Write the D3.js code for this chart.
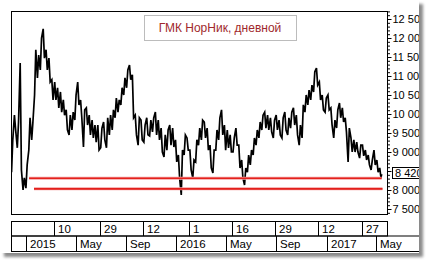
<!DOCTYPE html>
<html>
<head>
<meta charset="utf-8">
<script src="https://cdn.jsdelivr.net/npm/d3@7"></script>
<style>
    body { margin: 0; background: #fff; }
    svg { display: block; font-family: "Liberation Sans", Arial, sans-serif; }
</style>
</head>
<body>
<svg id="chart" width="434" height="265"></svg>
<script>
"use strict";

const title = "ГМК НорНик, дневной";

// weekly ranges, first week ends 2014-11-28
const firstWeek = "2014-11-28";
const weekHigh = [
    9320, 9970, 9790, 11340, 8320, 8660, 9900, 9790, 11690, 11550,
    12000, 12240, 11690, 11470, 10900, 10840, 10690, 10580, 10370, 10110,
    9970, 10050, 10500, 10840, 10370, 10110, 10160, 9970, 9840, 9710,
    9710, 9630, 9790, 9900, 9970, 10110, 10420, 10370, 10690, 10950,
    11160, 11290, 11030, 9970, 9900, 9840, 9710, 9900, 9840, 9900,
    10050, 9840, 9630, 9450, 9580, 9710, 9630, 9320, 8920, 9050,
    9450, 9370, 9050, 8790, 9320, 9630, 9840, 9790, 9630, 9180,
    9050, 9580, 9900, 10110, 9710, 9580, 9450, 9370, 9630, 9180,
    8790, 8580, 8920, 9050, 9370, 9580, 9790, 9970, 10050, 9970,
    9900, 9840, 9970, 9840, 9900, 10050, 9900, 10050, 10160, 9970,
    9710, 10240, 10500, 10630, 10760, 11110, 11210, 10840, 10500, 10420,
    10500, 10160, 9840, 10110, 10290, 10160, 9900, 9630, 9370, 9320,
    9260, 9180, 9180, 9050, 8920, 8790, 9050, 8790, 8580
];
const weekLow = [
    8470, 9580, 9110, 8530, 8000, 8050, 9050, 9320, 10500, 10950,
    11160, 11470, 11160, 10840, 10370, 10370, 10160, 10050, 9970, 9580,
    9450, 9580, 9840, 10240, 9900, 9130, 9710, 9450, 9370, 9260,
    9050, 9110, 9320, 9110, 9450, 9580, 9900, 10050, 10240, 10500,
    10690, 10900, 9900, 9450, 9180, 9320, 9260, 9450, 9420, 9530,
    9450, 9320, 9000, 8870, 9050, 9180, 9130, 8740, 8320, 7870,
    8920, 9050, 8530, 8320, 8740, 9180, 9320, 9370, 9050, 8580,
    8450, 9050, 9320, 9450, 9050, 9110, 9000, 9000, 9180, 8580,
    8320, 8130, 8470, 8660, 8920, 9180, 9370, 9580, 9630, 9580,
    9530, 9370, 9580, 9450, 9370, 9580, 9450, 9630, 9710, 9450,
    9180, 9370, 10050, 10240, 10370, 10580, 10760, 10370, 10110, 10050,
    10110, 9710, 9370, 9630, 9900, 9790, 9530, 8740, 9000, 9000,
    9000, 8840, 8900, 8790, 8660, 8530, 8660, 8470, 8320
];
const lastClose = 8420;

// horizontal support lines
const levelValues = [8310, 8030];
const levelFrom = ["2015-01-08", "2015-01-20"];
const levelTo = ["2017-05-15", "2017-05-17"];

const yTicks = [7500, 8000, 8500, 9000, 9500, 10000, 10500, 11000, 11500, 12000, 12500];

const dayTicks = ["2015-03-10", "2015-06-29", "2015-10-12", "2016-02-01",
                  "2016-05-16", "2016-08-29", "2016-12-12", "2017-03-27"];
const dayLabels = ["10", "29", "12", "1", "16", "29", "12", "27"];
const monthTicks = ["2015-01-01", "2015-05-01", "2015-09-01", "2016-01-01",
                    "2016-05-01", "2016-09-01", "2017-01-01", "2017-05-01"];
const monthLabels = ["2015", "May", "Sep", "2016", "May", "Sep", "2017", "May"];

const parse = d3.timeParse("%Y-%m-%d");
const fmt = d3.formatLocale({ decimal: ".", thousands: " ", grouping: [3], currency: ["", ""] }).format(",d");

const svg = d3.select("#chart");

const plot = { left: 11, top: 11, right: 387, bottom: 214 };
const panelW = 419, panelH = 253;

// panel with drop shadow
const defs = svg.append("defs");
defs.append("filter").attr("id", "blur")
    .attr("x", "-5%").attr("y", "-5%").attr("width", "110%").attr("height", "110%")
    .append("feGaussianBlur").attr("stdDeviation", 1.8);
defs.append("clipPath").attr("id", "panelClip")
    .append("rect").attr("x", 0).attr("y", 0).attr("width", panelW).attr("height", panelH);
defs.append("clipPath").attr("id", "plotClip")
    .append("rect").attr("x", plot.left).attr("y", plot.top)
    .attr("width", plot.right - plot.left).attr("height", plot.bottom - plot.top);

svg.append("rect")
    .attr("x", 4).attr("y", 4).attr("width", panelW).attr("height", panelH)
    .attr("fill", "#8a8a8a").attr("filter", "url(#blur)");
svg.append("rect")
    .attr("x", 0).attr("y", 0).attr("width", panelW).attr("height", panelH)
    .attr("fill", "#fff");

const x = d3.scaleTime()
    .domain([new Date(2014, 10, 25), new Date(2017, 4, 28)])
    .range([plot.left, plot.right]);

const y = d3.scaleLinear()
    .domain([7500, 12500])
    .range([209, 19]);

// build a zig-zag path through each week's range
const start = parse(firstWeek);
const points = [];
weekHigh.forEach((hi, i) => {
    const lo = weekLow[i];
    const d = d3.timeDay.offset(start, 7 * i);
    const mid = (hi + lo) / 2;
    const nextMid = i + 1 < weekHigh.length ? (weekHigh[i + 1] + weekLow[i + 1]) / 2 : lastClose;
    const pair = nextMid >= mid ? [lo, hi] : [hi, lo];
    points.push({ date: d3.timeHour.offset(d, -40), value: pair[0] });
    points.push({ date: d3.timeHour.offset(d, 32), value: pair[1] });
});
points.push({ date: d3.timeDay.offset(start, 7 * (weekHigh.length - 1) + 3), value: lastClose });

const line = d3.line()
    .x((d) => x(d.date))
    .y((d) => y(d.value));

const chart = svg.append("g").attr("clip-path", "url(#plotClip)");

chart.append("path")
    .datum(points)
    .attr("fill", "none")
    .attr("stroke", "#000")
    .attr("stroke-width", 1.7)
    .attr("stroke-linejoin", "miter")
    .attr("d", line);

// support levels
levelValues.forEach((v, i) => {
    chart.append("line")
        .attr("x1", x(parse(levelFrom[i])))
        .attr("x2", x(parse(levelTo[i])))
        .attr("y1", y(v))
        .attr("y2", y(v))
        .attr("stroke", "#f4a0a0")
        .attr("stroke-width", 3);
    chart.append("line")
        .attr("x1", x(parse(levelFrom[i])))
        .attr("x2", x(parse(levelTo[i])))
        .attr("y1", y(v))
        .attr("y2", y(v))
        .attr("stroke", "#e3201c")
        .attr("stroke-width", 1.6);
});

// frame
svg.append("rect")
    .attr("x", plot.left + 0.5).attr("y", plot.top + 0.5)
    .attr("width", plot.right - plot.left).attr("height", plot.bottom - plot.top)
    .attr("fill", "none").attr("stroke", "#000");

// title box
const tb = svg.append("g");
tb.append("rect")
    .attr("x", 144.5).attr("y", 15.5).attr("width", 152).attr("height", 25)
    .attr("fill", "#fff").attr("stroke", "#bcbcbc");
tb.append("text")
    .attr("x", 220).attr("y", 32)
    .attr("text-anchor", "middle")
    .attr("fill", "#a0282c")
    .style("font-size", "12px")
    .text(title);

// y axis on the right
const yg = svg.append("g").attr("clip-path", "url(#panelClip)");

const minor = d3.range(7400, 12701, 100).filter((v) => v % 500 !== 0);
yg.append("g")
    .attr("transform", `translate(${plot.right + 0.5},0)`)
    .call(d3.axisRight(y).tickValues(minor).tickSize(2.5).tickFormat(""))
    .call((g) => g.select(".domain").remove());

// the last-price marker hides the label next to it
const hidden = (v) => Math.abs(y(v) - y(lastClose)) < 9;
yg.append("g")
    .attr("transform", `translate(${plot.right + 0.5},0)`)
    .call(d3.axisRight(y).tickValues(yTicks).tickSize(4).tickPadding(1)
        .tickFormat((v) => hidden(v) ? "" : fmt(v)))
    .call((g) => g.select(".domain").remove())
    .call((g) => g.selectAll("text").style("font-size", "11px").attr("fill", "#000"))
    .call((g) => g.selectAll("line").attr("stroke", "#000"));

// last value marker
const ly = Math.round(y(lastClose)) - 1;
yg.append("rect")
    .attr("x", 392.5).attr("y", ly - 5.5).attr("width", 40).attr("height", 11)
    .attr("fill", "#fff").attr("stroke", "#000");
yg.append("text")
    .attr("x", 395).attr("y", ly + 4)
    .style("font-size", "11px")
    .text(fmt(lastClose));

// date rows
const rows = svg.append("g").attr("clip-path", "url(#panelClip)")
    .attr("stroke", "#000").attr("fill", "none");
rows.append("rect").attr("x", plot.left + 0.5).attr("y", 221.5)
    .attr("width", plot.right - plot.left).attr("height", 14.5);
rows.append("rect").attr("x", plot.left + 0.5).attr("y", 236)
    .attr("width", panelW - plot.left + 2).attr("height", 15.5);

dayTicks.forEach((t) => {
    const px = Math.round(x(parse(t))) + 0.5;
    rows.append("line").attr("x1", px).attr("x2", px).attr("y1", 221.5).attr("y2", 236);
});
monthTicks.forEach((t) => {
    const px = Math.round(x(parse(t))) + 0.5;
    rows.append("line").attr("x1", px).attr("x2", px).attr("y1", 236).attr("y2", 251.5);
});

const labels = svg.append("g").attr("clip-path", "url(#panelClip)")
    .style("font-size", "11.5px").attr("fill", "#000");
labels.selectAll(".day").data(dayTicks).enter().append("text")
    .attr("x", (t) => Math.round(x(parse(t))) + 4)
    .attr("y", 233)
    .text((t, i) => dayLabels[i]);
labels.selectAll(".month").data(monthTicks).enter().append("text")
    .attr("x", (t) => Math.round(x(parse(t))) + 4)
    .attr("y", 248)
    .text((t, i) => monthLabels[i]);
</script>
</body>
</html>
